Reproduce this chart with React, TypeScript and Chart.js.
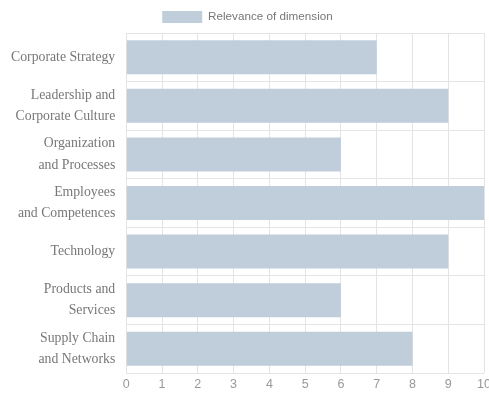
import React, { useEffect, useRef } from "react";
import { Chart, registerables } from "chart.js";

Chart.register(...registerables);

const categories: string[][] = [
  ["Corporate Strategy"],
  ["Leadership and", "Corporate Culture"],
  ["Organization", "and Processes"],
  ["Employees", "and Competences"],
  ["Technology"],
  ["Products and", "Services"],
  ["Supply Chain", "and Networks"],
];
const relevance: number[] = [7, 9, 6, 10, 9, 6, 8];
const seriesLabel = "Relevance of dimension";
const xMin = 0;
const xMax = 10;

export default function App() {
  const ref = useRef<HTMLCanvasElement | null>(null);
  useEffect(() => {
    if (!ref.current) return;
    const chart = new Chart(ref.current, {
      type: "bar",
      data: {
        labels: categories,
        datasets: [
          {
            label: seriesLabel,
            data: relevance,
            backgroundColor: "rgb(192,206,219)",
            borderWidth: 0,
            barPercentage: 0.875,
            categoryPercentage: 0.8,
          },
        ],
      },
      options: {
        indexAxis: "y",
        animation: false,
        responsive: false,
        maintainAspectRatio: false,
        layout: { padding: { top: 1, right: 0, left: 0, bottom: 7 } },
        plugins: {
          legend: {
            position: "top",
            labels: {
              boxWidth: 40,
              boxHeight: 12,
              color: "#777",
              font: { family: "Liberation Sans, Arial, sans-serif", size: 11.7 },
              padding: 10,
            },
          },
          tooltip: { enabled: false },
        },
        scales: {
          x: {
            min: xMin,
            max: xMax,
            ticks: {
              stepSize: 1,
              color: "#999",
              font: { family: "Liberation Sans, Arial, sans-serif", size: 12.5 },
              padding: 4,
            },
            grid: { color: "#e4e4e4", drawTicks: false },
            border: { display: false },
          },
          y: {
            ticks: {
              color: "#777",
              font: { family: "Liberation Serif, Times New Roman, serif", size: 13.75, lineHeight: 1.55 },
              padding: 11,
            },
            grid: { color: "#e4e4e4", drawTicks: false },
            border: { display: false },
          },
        },
      },
    });
    return () => chart.destroy();
  }, []);
  return (
    <div style={{ position: "fixed", left: 0, top: 0, width: 495, height: 403, background: "#fff" }}>
      <canvas ref={ref} width={495} height={403} />
    </div>
  );
}
